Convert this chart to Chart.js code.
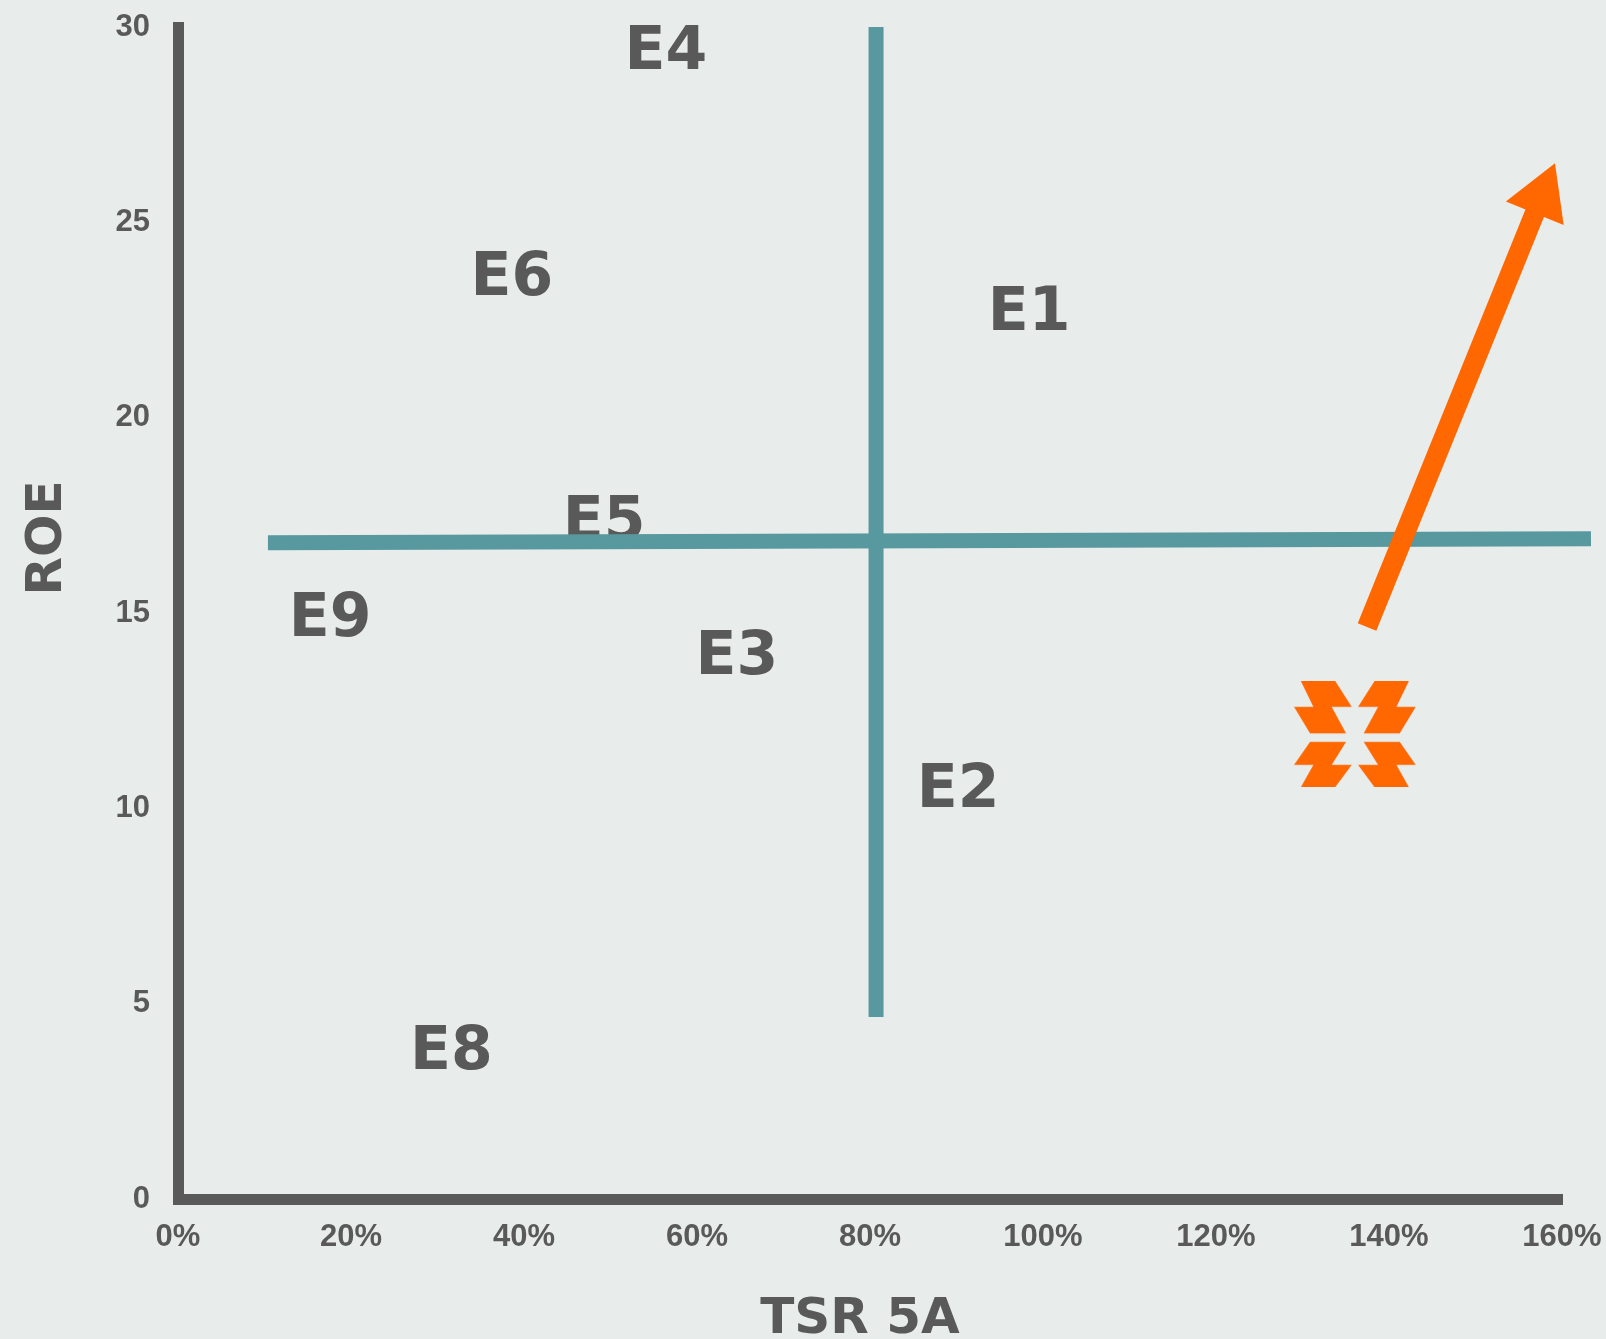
<!DOCTYPE html>
<html>
<head>
<meta charset="utf-8">
<script src="https://cdn.jsdelivr.net/npm/chart.js@4.4.0/dist/chart.umd.min.js"></script>
<style>
  html, body { margin: 0; padding: 0; background: #e8ecea; }
  #wrap { width: 1606px; height: 1339px; }
</style>
</head>
<body>
<div id="wrap"><canvas id="matrix"></canvas></div>
<script>
// Companies on TSR 5A (x) vs ROE (y)
const companyNames = ['E1', 'E2', 'E3', 'E4', 'E5', 'E6', 'E8', 'E9'];
const companyTsr = [0.984, 0.902, 0.646, 0.564, 0.4925, 0.386, 0.316, 0.176];
const companyRoe = [22.8, 10.6, 14.0, 29.5, 17.45, 23.7, 3.9, 14.97];

// quadrant dividers
const vDividerX = [0.807, 0.807];
const vDividerY = [4.66, 30];
const hDividerX = [0.104, 1.6335];
const hDividerY = [16.8, 16.9];

// trend arrow (tail, head) and logo position
const arrowX = [1.3746, 1.5763];
const arrowY = [14.64, 25.66];
const logoX = [1.3607];
const logoY = [11.9];

// axis ticks
const xTicks = [0, 0.2, 0.4, 0.6, 0.8, 1.0, 1.2, 1.4, 1.6];
const yTicks = [0, 5, 10, 15, 20, 25, 30];

const GREY = '#595959';
const TEAL = '#58989f';
const ORANGE = '#ff6700';

const toPoints = (xs, ys) => xs.map((x, i) => ({ x: x, y: ys[i] }));

// build the orange logo as an image used for a point style
function makeLogo() {
    const c = document.createElement('canvas');
    c.width = 122;
    c.height = 106;
    const ctx = c.getContext('2d');
    ctx.fillStyle = ORANGE;
    ctx.translate(-24, -21);
    ctx.scale(1 / 3, 1 / 3);
    const piece = [[92, 62], [195, 62], [245, 140], [185, 140], [228, 220], [120, 220], [72, 140], [130, 140]];
    const flips = [
        p => p,
        p => [509 - p[0], p[1]],
        p => [p[0], 382 - (p[1] - 62) * 137 / 158],
        p => [509 - p[0], 382 - (p[1] - 62) * 137 / 158]
    ];
    flips.forEach(f => {
        ctx.beginPath();
        piece.map(f).forEach((p, i) => i ? ctx.lineTo(p[0], p[1]) : ctx.moveTo(p[0], p[1]));
        ctx.closePath();
        ctx.fill();
    });
    return c;
}

// company names under everything else, axis titles on top
const textPlugin = {
    id: 'textPlugin',
    beforeDatasetsDraw(chart) {
        const ctx = chart.ctx;
        const meta = chart.getDatasetMeta(0);
        ctx.save();
        ctx.font = 'bold 60px "DejaVu Sans"';
        ctx.fillStyle = GREY;
        ctx.textAlign = 'center';
        ctx.textBaseline = 'alphabetic';
        meta.data.forEach((pt, i) => {
            ctx.fillText(companyNames[i], pt.x, pt.y + 22);
        });
        ctx.restore();
    },
    afterDraw(chart) {
        const ctx = chart.ctx;
        ctx.save();
        ctx.font = 'bold 50px "DejaVu Sans"';
        ctx.fillStyle = GREY;
        ctx.textAlign = 'center';
        ctx.fillText('TSR 5A', 860, 1333);
        ctx.translate(43, 538);
        ctx.rotate(-Math.PI / 2);
        ctx.fillText('ROE', 0, 18);
        ctx.restore();
    }
};

const tickFont = { family: 'Liberation Sans', weight: 'bold', size: 31 };

new Chart(document.getElementById('matrix'), {
    type: 'scatter',
    data: {
        datasets: [
            {
                label: 'Empresas',
                data: toPoints(companyTsr, companyRoe),
                pointRadius: 0,
                order: 5
            },
            {
                label: 'TSR divider',
                data: toPoints(vDividerX, vDividerY),
                showLine: true,
                borderColor: TEAL,
                borderWidth: 15,
                borderCapStyle: 'butt',
                pointRadius: 0,
                clip: false,
                order: 3
            },
            {
                label: 'ROE divider',
                data: toPoints(hDividerX, hDividerY),
                showLine: true,
                borderColor: TEAL,
                borderWidth: 15,
                borderCapStyle: 'butt',
                pointRadius: 0,
                clip: false,
                order: 3
            },
            {
                label: 'Trend',
                data: toPoints(arrowX, arrowY),
                showLine: true,
                borderColor: ORANGE,
                borderWidth: 20,
                borderCapStyle: 'butt',
                pointStyle: 'triangle',
                pointRadius: [0, 36],
                pointRotation: [0, 22],
                pointBackgroundColor: ORANGE,
                pointBorderWidth: 0,
                clip: false,
                order: 1
            },
            {
                label: 'Logo',
                data: toPoints(logoX, logoY),
                pointStyle: makeLogo(),
                pointRadius: 10,
                order: 1
            }
        ]
    },
    options: {
        responsive: true,
        maintainAspectRatio: false,
        animation: false,
        events: [],
        layout: {
            autoPadding: false,
            padding: { top: 27, right: 44, left: 0, bottom: 0 }
        },
        plugins: {
            legend: { display: false },
            tooltip: { enabled: false }
        },
        scales: {
            x: {
                type: 'linear',
                min: 0,
                max: 1.6,
                grid: { display: false, drawTicks: false },
                border: { display: true, color: GREY, width: 11 },
                afterBuildTicks: scale => { scale.ticks = xTicks.map(v => ({ value: v })); },
                afterFit: scale => {
                    scale.height = 140;
                    scale.paddingLeft = 0;
                    scale.paddingRight = 0;
                },
                ticks: {
                    color: GREY,
                    font: tickFont,
                    padding: 20,
                    maxRotation: 0,
                    callback: v => Math.round(v * 100) + '%'
                }
            },
            y: {
                type: 'linear',
                min: 0,
                max: 30,
                grid: { display: false, drawTicks: false },
                border: { display: true, color: GREY, width: 11 },
                afterBuildTicks: scale => { scale.ticks = yTicks.map(v => ({ value: v })); },
                afterFit: scale => {
                    scale.width = 178;
                    scale.paddingTop = 0;
                    scale.paddingBottom = 0;
                },
                ticks: {
                    color: GREY,
                    font: tickFont,
                    padding: 28
                }
            }
        }
    },
    plugins: [textPlugin]
});
</script>
</body>
</html>
